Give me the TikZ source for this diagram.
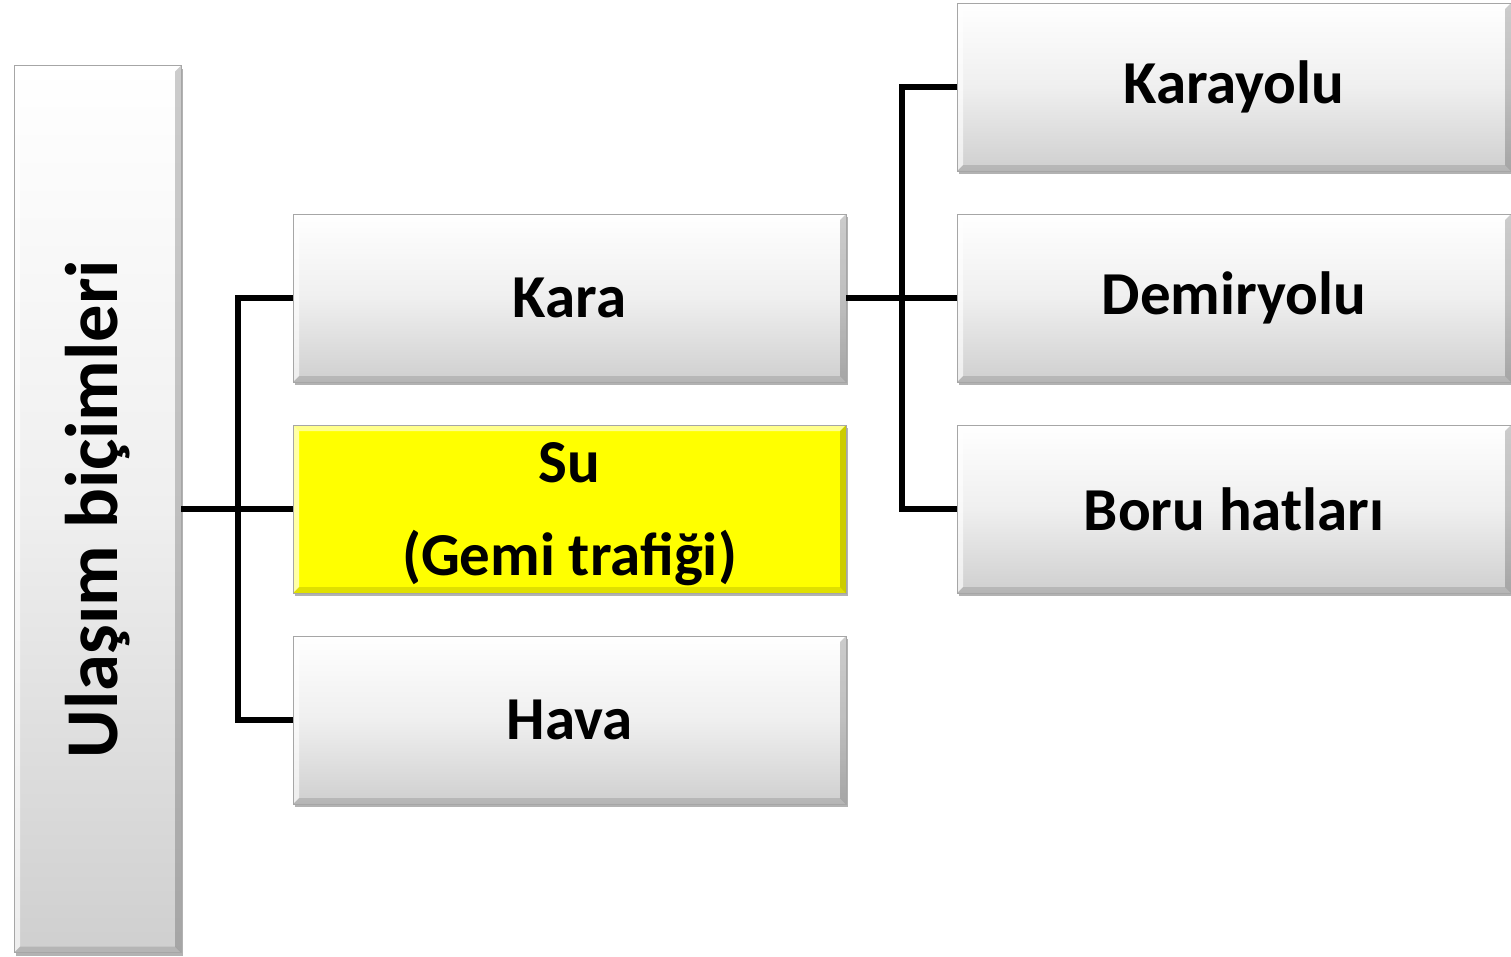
\documentclass[tikz,border=0pt]{standalone}
\usepackage{fontspec}
\setmainfont{Carlito}
\usetikzlibrary{shadows}
\definecolor{boxgray}{HTML}{CFCFCF}
\definecolor{boxmid}{HTML}{EFEFEF}
\definecolor{edgegray}{HTML}{A6A6A6}
\definecolor{suyellow}{HTML}{FFFF00}
\tikzset{
  bevel/.style={path picture={
    \fill[white,opacity=0.55] (path picture bounding box.north west) -- (path picture bounding box.north east)
      -- ([xshift=-6pt,yshift=-6pt]path picture bounding box.north east) -- ([xshift=6pt,yshift=-6pt]path picture bounding box.north west) -- cycle;
    \fill[white,opacity=0.65] (path picture bounding box.north west) -- ([xshift=6pt,yshift=-6pt]path picture bounding box.north west)
      -- ([xshift=6pt,yshift=6pt]path picture bounding box.south west) -- (path picture bounding box.south west) -- cycle;
    \fill[black,opacity=0.12] (path picture bounding box.south west) -- ([xshift=6pt,yshift=6pt]path picture bounding box.south west)
      -- ([xshift=-6pt,yshift=6pt]path picture bounding box.south east) -- (path picture bounding box.south east) -- cycle;
    \fill[black,opacity=0.2] (path picture bounding box.south east) -- ([xshift=-6pt,yshift=6pt]path picture bounding box.south east)
      -- ([xshift=-6pt,yshift=-6pt]path picture bounding box.north east) -- (path picture bounding box.north east) -- cycle;
  }},
  box/.style={rectangle, draw=edgegray, line width=0.8pt, inner sep=0pt, outer sep=0pt,
    minimum width=553pt, minimum height=168pt, align=center,
    font=\fontsize{61}{93}\selectfont\bfseries,
    drop shadow={shadow xshift=2pt, shadow yshift=-3pt, opacity=0.3, fill=black},
    bevel},
  graybox/.style={box, top color=white, bottom color=boxgray, middle color=boxmid},
  yellowbox/.style={box, fill=suyellow},
  link/.style={line width=5.5pt, black}
}
\begin{document}
\begin{tikzpicture}[x=1pt,y=-1pt]
\useasboundingbox (0,0) rectangle (1511,956);

% root box with rotated title
\node[graybox, minimum width=167pt, minimum height=887pt,
      font=\fontsize{74.5}{90}\selectfont\bfseries] (ulasim) at (97.5,509)
  {\rotatebox{90}{Ulaşım biçimleri}};

% second level
\node[graybox] (kara) at (569.5,298) {Kara};
\node[yellowbox, text depth=0pt] (su) at (569.5,509) {\raisebox{-0.5pt}{Su}\\\raisebox{-0.5pt}{(Gemi trafiği)}};
\node[graybox] (hava) at (569.5,720) {Hava};

% third level
\node[graybox, minimum width=554pt] (karayolu) at (1234,87) {Karayolu};
\node[graybox, minimum width=554pt] (demir) at (1234,298) {Demiryolu};
\node[graybox, minimum width=554pt] (boru) at (1234,509) {Boru hatları};

% connectors
\coordinate (j1) at (238,0);
\coordinate (j2) at (902,0);
\draw[link] (ulasim.east) -- (su.west);
\draw[link] (kara.west) -- (kara.west -| j1) -- (hava.west -| j1) -- (hava.west);
\draw[link] (kara.east) -- (demir.west);
\draw[link] (karayolu.west) -- (karayolu.west -| j2) -- (boru.west -| j2) -- (boru.west);
\end{tikzpicture}
\end{document}
